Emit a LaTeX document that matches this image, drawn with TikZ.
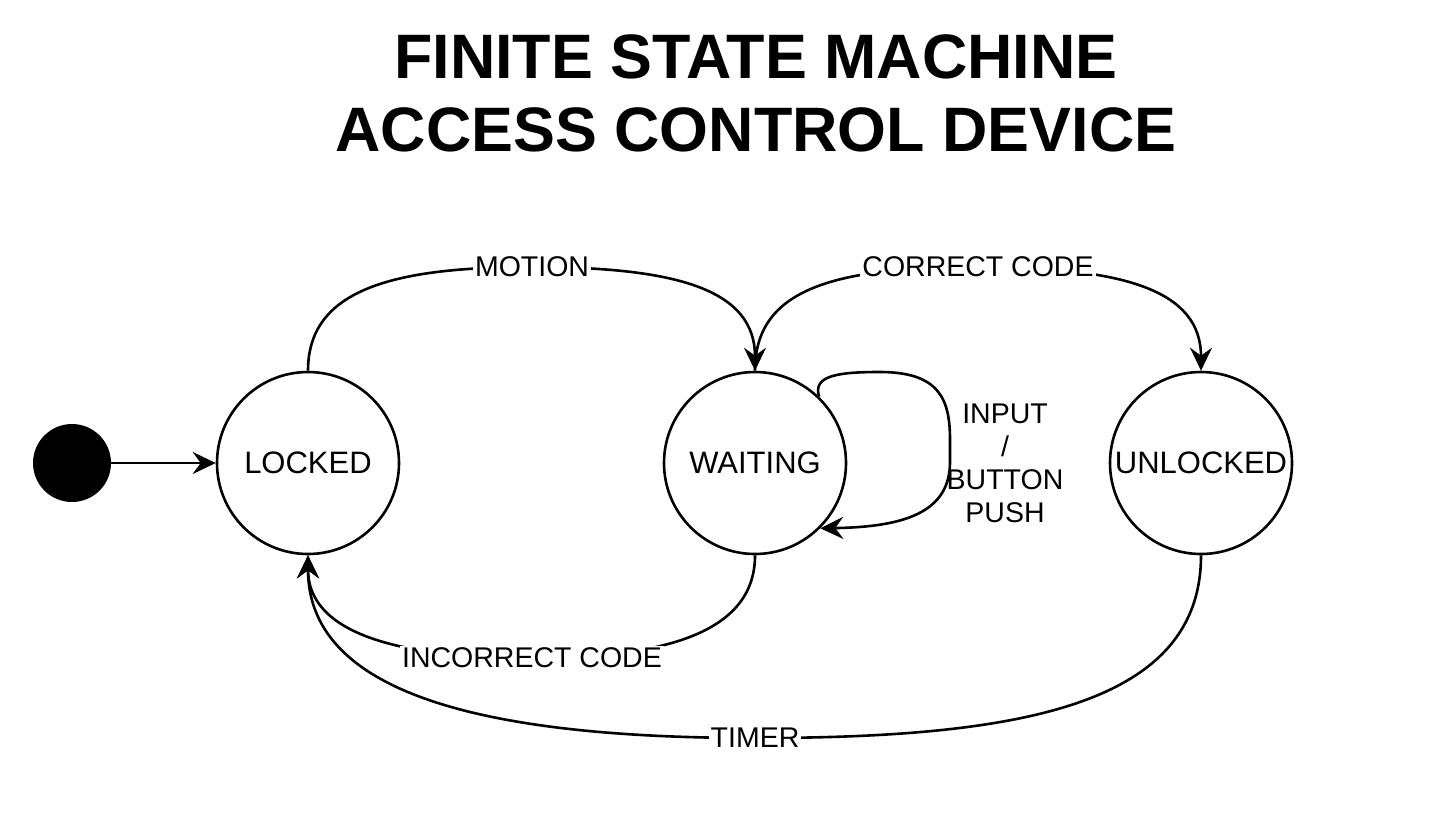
\documentclass[tikz,border=0pt]{standalone}
\usepackage{fontspec}
\setmainfont{Liberation Sans}
\usetikzlibrary{arrows.meta}

\tikzset{
	statenode/.style={draw,circle,line width=2.6pt,minimum size=182pt,inner sep=0pt,font=\fontsize{31}{37}\selectfont},
	edgelabel/.style={fill=white,inner sep=2pt,font=\fontsize{28.5}{33}\selectfont},
	edge/.style={line width=2.6pt,-{Stealth[length=23pt,width=22pt,inset=8pt]}}
}

\begin{document}
\begin{tikzpicture}[x=1pt,y=-1pt]
			\useasboundingbox (0,0) rectangle (1455,823);
			\node[align=center,font=\fontsize{62.8}{73}\selectfont\bfseries] (title) at (756,93) {FINITE STATE MACHINE\\ACCESS CONTROL DEVICE};

			\node[circle,fill=black,minimum size=78pt,inner sep=0pt] (init) at (72,463) {};
			\node[statenode] (locked) at (308,463) {LOCKED};
			\node[statenode] (waiting) at (755,463) {WAITING};
			\node[statenode] (unlocked) at (1201,463) {UNLOCKED};

			\draw[edge] (init) -- (locked);
			\draw[edge] (locked.north) .. controls +(0,-80) and (390,267) .. (532,267) node[edgelabel] (lmotion) {MOTION} .. controls (680,267) and +(0,-80) .. (waiting.north);
			\draw[edge] (waiting.north) .. controls +(0,-80) and (830,267) .. (978,267) node[edgelabel] (lcorrect) {CORRECT CODE} .. controls (1125,267) and +(0,-80) .. (unlocked.north);
			\draw[edge] (waiting.46) .. controls (812,375) and (840,372) .. (880,372) .. controls (940,372) and (950,400) .. (950,440) -- (950,462) .. controls (950,512) and (905,527) .. (waiting.-45);
			\node[align=center,font=\fontsize{28.5}{33}\selectfont] (lloop) at (1005,463) {INPUT\\/\\BUTTON\\PUSH};
			\draw[edge] (waiting.south) .. controls +(0,75) and (670,658) .. (532,658) node[edgelabel] (lincorrect) {INCORRECT CODE} .. controls (390,658) and +(0,75) .. (locked.south);
			\draw[edge] (unlocked.south) .. controls +(0,150) and (1020,738) .. (755,738) node[edgelabel] (ltimer) {TIMER} .. controls (460,738) and +(0,130) .. (locked.south);
		\end{tikzpicture}
\end{document}
